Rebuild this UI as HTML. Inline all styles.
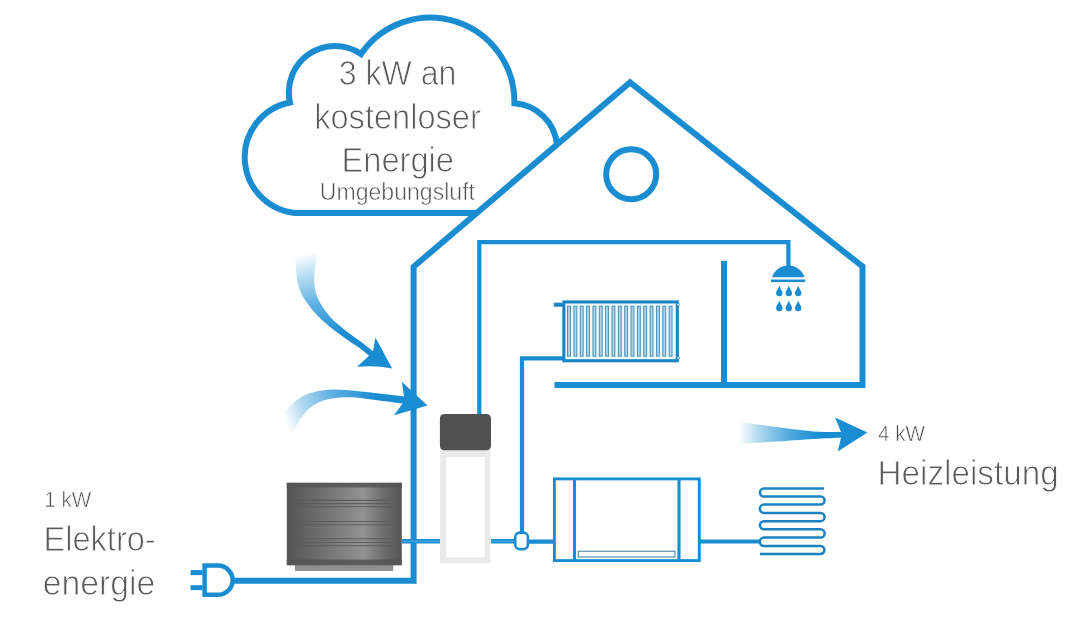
<!DOCTYPE html>
<html><head><meta charset="utf-8"><title>Wärmepumpe</title>
<style>
html,body{margin:0;padding:0;background:#fff;}
body{width:1090px;height:637px;overflow:hidden;font-family:"Liberation Sans",sans-serif;}
svg{display:block;filter:blur(0.35px);}
text{font-family:"Liberation Sans",sans-serif;fill:#595959;stroke:#fff;stroke-width:0.9px;paint-order:fill stroke;}
.sm{stroke-width:0.55px;fill:#505050}
</style></head><body>
<svg width="1090" height="637" viewBox="0 0 1090 637">
<defs>
<linearGradient id="g1" gradientUnits="userSpaceOnUse" x1="300" y1="250" x2="318" y2="340">
<stop offset="0" stop-color="#ffffff"/><stop offset="0.05" stop-color="#ffffff"/><stop offset="0.3" stop-color="#b4daf1"/><stop offset="0.62" stop-color="#5eb0e1"/><stop offset="1" stop-color="#1a8dd2"/></linearGradient>
<linearGradient id="g2" gradientUnits="userSpaceOnUse" x1="280" y1="428" x2="374" y2="392">
<stop offset="0" stop-color="#ffffff"/><stop offset="0.07" stop-color="#ffffff"/><stop offset="0.28" stop-color="#b4daf1"/><stop offset="0.6" stop-color="#5eb0e1"/><stop offset="1" stop-color="#1a8dd2"/></linearGradient>
<linearGradient id="g3" gradientUnits="userSpaceOnUse" x1="736" y1="0" x2="818" y2="0">
<stop offset="0" stop-color="#ffffff"/><stop offset="0.03" stop-color="#ffffff"/><stop offset="0.3" stop-color="#a9d5ef"/><stop offset="0.65" stop-color="#4fa9de"/><stop offset="1" stop-color="#1a8dd2"/></linearGradient>
<linearGradient id="gu" x1="0" y1="0" x2="1" y2="0">
<stop offset="0" stop-color="#555555"/><stop offset="0.12" stop-color="#5e5e5e"/><stop offset="0.45" stop-color="#7d7d7d"/><stop offset="0.66" stop-color="#929292"/><stop offset="0.86" stop-color="#6a6a6a"/><stop offset="1" stop-color="#555555"/></linearGradient>
</defs>
<rect width="1090" height="637" fill="#ffffff"/>

<!-- arrows -->
<path d="M 295.0 251.0 C 295.3 255.3 295.9 270.2 296.7 276.7 C 297.5 283.2 298.6 286.1 300.0 290.0 C 301.4 293.9 302.6 296.2 305.1 300.1 C 307.6 304.0 311.0 308.7 315.2 313.2 C 319.4 317.7 325.3 323.1 330.4 327.3 C 335.4 331.5 340.5 334.8 345.5 338.4 C 350.5 342.0 356.7 345.9 360.6 348.8 C 364.5 351.7 367.6 354.6 369.0 355.8 L 357 366.8 Q 376 365.2 392.2 368.4 L 375.4 337.6 L 373 351.2 C 370.9 349.6 365.2 345.0 360.6 341.5 C 356.0 338.0 350.5 334.4 345.5 330.4 C 340.5 326.3 334.6 321.8 330.4 317.2 C 326.2 312.6 322.8 307.6 320.3 303.1 C 317.8 298.6 316.2 295.0 315.2 290.0 C 314.2 285.0 314.0 279.5 314.5 273.0 C 315.0 266.5 317.4 254.7 318.0 251.0 Z" fill="url(#g1)"/>
<path d="M 281.0 416.8 C 283.1 414.5 288.7 406.7 293.4 402.8 C 298.1 398.9 302.5 395.6 309.0 393.4 C 315.5 391.2 323.3 389.8 332.4 389.5 C 341.5 389.2 351.7 390.6 363.6 391.8 C 375.5 393.0 397.3 395.7 404.0 396.5 L 401.8 381.7 L 427.5 405.6 L 394 415.2 L 402.6 403.5 C 398.7 403.0 388.1 401.4 379.0 400.4 C 369.9 399.4 357.6 397.2 348.0 397.3 C 338.4 397.4 328.8 398.5 321.5 401.2 C 314.2 403.9 309.2 408.2 304.3 413.7 C 299.4 419.2 293.9 430.6 291.8 434.0 Z" fill="url(#g2)"/>
<path d="M 738.7 421.8 C 744.9 422.7 763.5 425.4 776.0 427.0 C 788.5 428.6 802.8 430.6 813.6 431.4 C 824.4 432.2 836.4 431.9 841.0 432.0 L 835.1 417.5 L 867.4 432.4 L 837.8 451.5 L 841 437.4 C 836.4 437.7 824.4 438.3 813.6 439.0 C 802.8 439.7 788.5 440.8 776.0 441.6 C 763.5 442.4 744.9 443.4 738.7 443.7 Z" fill="url(#g3)"/>

<!-- cloud -->
<path d="M 477 213.1 H 300.8 A 55.8 55.8 0 0 1 290 102.5 A 46.2 46.2 0 0 1 361 54 A 84.1 84.1 0 0 1 514.4 103.2 A 46 46 0 0 1 557 144.5" fill="none" stroke="#1a8dd2" stroke-width="6" stroke-linejoin="miter"/>

<!-- house -->
<path d="M 233 580.7 H 413.6 V 266.8 L 630 82.4 L 862.5 266.5 V 385 H 554.5" fill="none" stroke="#1a8dd2" stroke-width="6" stroke-linejoin="miter" stroke-miterlimit="10"/>
<path d="M 724 260.8 V 385" fill="none" stroke="#1a8dd2" stroke-width="6"/>
<circle cx="631.2" cy="174.2" r="25" fill="none" stroke="#1a8dd2" stroke-width="6"/>

<!-- pipes -->
<path d="M 479.3 416 V 242.2 H 788.4 V 267" fill="none" stroke="#1a8dd2" stroke-width="4.2" stroke-linejoin="miter"/>
<path d="M 564 358.4 H 522 V 533" fill="none" stroke="#1a8dd2" stroke-width="4.2" stroke-linejoin="miter"/>

<!-- shower -->
<path d="M 772 277.2 A 17.2 17.2 0 0 1 804.6 277.2 Z" fill="#1a8dd2"/>
<rect x="771" y="279.5" width="34.2" height="2.6" fill="#1a8dd2"/>
<path d="M 779.30 285.50 C 779.90 288.30 782.50 290.80 782.50 293.00 A 3.20 3.20 0 0 1 776.10 293.00 C 776.10 290.80 778.70 288.30 779.30 285.50 Z" fill="#1a8dd2"/><path d="M 779.30 300.50 C 779.90 303.30 782.50 305.80 782.50 308.00 A 3.20 3.20 0 0 1 776.10 308.00 C 776.10 305.80 778.70 303.30 779.30 300.50 Z" fill="#1a8dd2"/><path d="M 788.80 285.50 C 789.40 288.30 792.00 290.80 792.00 293.00 A 3.20 3.20 0 0 1 785.60 293.00 C 785.60 290.80 788.20 288.30 788.80 285.50 Z" fill="#1a8dd2"/><path d="M 788.80 300.50 C 789.40 303.30 792.00 305.80 792.00 308.00 A 3.20 3.20 0 0 1 785.60 308.00 C 785.60 305.80 788.20 303.30 788.80 300.50 Z" fill="#1a8dd2"/><path d="M 798.20 285.50 C 798.80 288.30 801.40 290.80 801.40 293.00 A 3.20 3.20 0 0 1 795.00 293.00 C 795.00 290.80 797.60 288.30 798.20 285.50 Z" fill="#1a8dd2"/><path d="M 798.20 300.50 C 798.80 303.30 801.40 305.80 801.40 308.00 A 3.20 3.20 0 0 1 795.00 308.00 C 795.00 305.80 797.60 303.30 798.20 300.50 Z" fill="#1a8dd2"/>

<!-- radiator -->
<rect x="553.7" y="302.7" width="10" height="4" fill="#1a84c4"/>
<rect x="563.85" y="301.95" width="113.5" height="58.8" fill="#ecfaff" stroke="#1a84c4" stroke-width="3.1"/>
<rect x="567.55" y="306.2" width="2.9" height="50" fill="#a9d3e6" stroke="#4a8db2" stroke-width="0.95"/><rect x="573.90" y="306.2" width="2.9" height="50" fill="#a9d3e6" stroke="#4a8db2" stroke-width="0.95"/><rect x="580.25" y="306.2" width="2.9" height="50" fill="#a9d3e6" stroke="#4a8db2" stroke-width="0.95"/><rect x="586.60" y="306.2" width="2.9" height="50" fill="#a9d3e6" stroke="#4a8db2" stroke-width="0.95"/><rect x="592.95" y="306.2" width="2.9" height="50" fill="#a9d3e6" stroke="#4a8db2" stroke-width="0.95"/><rect x="599.30" y="306.2" width="2.9" height="50" fill="#a9d3e6" stroke="#4a8db2" stroke-width="0.95"/><rect x="605.65" y="306.2" width="2.9" height="50" fill="#a9d3e6" stroke="#4a8db2" stroke-width="0.95"/><rect x="612.00" y="306.2" width="2.9" height="50" fill="#a9d3e6" stroke="#4a8db2" stroke-width="0.95"/><rect x="618.35" y="306.2" width="2.9" height="50" fill="#a9d3e6" stroke="#4a8db2" stroke-width="0.95"/><rect x="624.70" y="306.2" width="2.9" height="50" fill="#a9d3e6" stroke="#4a8db2" stroke-width="0.95"/><rect x="631.05" y="306.2" width="2.9" height="50" fill="#a9d3e6" stroke="#4a8db2" stroke-width="0.95"/><rect x="637.40" y="306.2" width="2.9" height="50" fill="#a9d3e6" stroke="#4a8db2" stroke-width="0.95"/><rect x="643.75" y="306.2" width="2.9" height="50" fill="#a9d3e6" stroke="#4a8db2" stroke-width="0.95"/><rect x="650.10" y="306.2" width="2.9" height="50" fill="#a9d3e6" stroke="#4a8db2" stroke-width="0.95"/><rect x="656.45" y="306.2" width="2.9" height="50" fill="#a9d3e6" stroke="#4a8db2" stroke-width="0.95"/><rect x="662.80" y="306.2" width="2.9" height="50" fill="#a9d3e6" stroke="#4a8db2" stroke-width="0.95"/><rect x="669.15" y="306.2" width="2.9" height="50" fill="#a9d3e6" stroke="#4a8db2" stroke-width="0.95"/>
<circle cx="678.3" cy="304.5" r="1.3" fill="#fff" stroke="#1a8dd2" stroke-width="0.8"/>
<circle cx="678.3" cy="358" r="1.3" fill="#fff" stroke="#1a8dd2" stroke-width="0.8"/>

<!-- heat pump outdoor unit -->
<rect x="295" y="563" width="98.2" height="8" fill="#8f8f8f"/>
<rect x="286.8" y="482.8" width="115" height="82.4" fill="url(#gu)"/>
<rect x="286.8" y="482.8" width="115" height="4.6" fill="#555" opacity="0.85"/>
<rect x="286.8" y="559.6" width="115" height="5.6" fill="#555" opacity="0.85"/>
<g stroke="#5a5a5a" stroke-width="1.1" opacity="0.9">
<path d="M 297 500.4 H 394 M 299 503.6 H 392 M 297 506.8 H 394"/>
<path d="M 299 521.5 H 392 M 297 524.7 H 394"/>
<path d="M 297 538.8 H 394 M 299 542.5 H 392 M 297 545.8 H 394"/>
</g>

<!-- connection pipes bottom -->
<path d="M 401.8 541.2 H 440 M 491 541.2 H 515" stroke="#1a8dd2" stroke-width="4.6" fill="none"/>
<path d="M 401.8 541.2 H 440 M 491 541.2 H 515" stroke="#55aee4" stroke-width="1" fill="none"/>
<path d="M 528 541.6 H 554 M 700 541.5 H 760" stroke="#1a8dd2" stroke-width="4.2" fill="none"/>

<!-- tank -->
<rect x="440.2" y="446" width="50.1" height="117.3" fill="#e9e9e9"/><rect x="446.2" y="457" width="38.5" height="100.4" fill="#ffffff"/>
<rect x="439.9" y="414" width="51.1" height="36.3" rx="4.5" fill="#505050"/>

<!-- valve -->
<rect x="515.2" y="532.6" width="12.7" height="16.6" rx="4.6" fill="#ffffff" stroke="#1a8dd2" stroke-width="2.6"/>

<!-- buffer box -->
<rect x="554.4" y="478.9" width="144.9" height="81.7" fill="#ffffff" stroke="#1a8dd2" stroke-width="2.9"/>
<path d="M 574.5 479 V 560.5 M 679 479 V 560.5" stroke="#1a8dd2" stroke-width="3.1" fill="none"/>
<rect x="578.3" y="551.2" width="96.7" height="5.8" fill="#ffffff" stroke="#4f86a8" stroke-width="1.1"/>

<!-- coil -->
<path d="M 824 488.4 H 764.0 A 4.05 4.05 0 0 0 764.0 496.5 H 820.5 A 4.05 4.05 0 0 1 820.5 504.6 H 764.0 A 4.15 4.15 0 0 0 764.0 512.9 H 820.5 A 4.15 4.15 0 0 1 820.5 521.2 H 764.0 A 4.05 4.05 0 0 0 764.0 529.3 H 820.5 A 4.15 4.15 0 0 1 820.5 537.6 H 764.0 A 4.20 4.20 0 0 0 764.0 546.0 H 820.5 A 3.95 3.95 0 0 1 820.5 553.9 H 760.0" fill="none" stroke="#1c82bf" stroke-width="2.5" stroke-linecap="butt"/>

<!-- plug -->
<path d="M 204.6 565.6 H 218 A 14.6 14.6 0 0 1 218 594.8 H 204.6 Z" fill="none" stroke="#1a8dd2" stroke-width="4.5" stroke-linejoin="miter"/>
<rect x="190.6" y="570.1" width="12" height="5" fill="#1a8dd2"/>
<rect x="190.6" y="585.2" width="12" height="4.9" fill="#1a8dd2"/>

<!-- text -->
<g id="txt" opacity="0.999">
<text x="338.7" y="85.2" font-size="35.2" textLength="117.8" lengthAdjust="spacingAndGlyphs">3 kW an</text>
<text x="314.2" y="129.0" font-size="35.2" textLength="166.6" lengthAdjust="spacingAndGlyphs">kostenloser</text>
<text x="341.6" y="172.2" font-size="35.2" textLength="112.4" lengthAdjust="spacingAndGlyphs">Energie</text>
<text x="319.8" y="200.3" class="sm" font-size="23.1" textLength="155.2" lengthAdjust="spacingAndGlyphs">Umgebungsluft</text>
<text x="44.2" y="506.7" class="sm" font-size="22.1" textLength="47" lengthAdjust="spacingAndGlyphs">1 kW</text>
<text x="43.5" y="550.8" font-size="35.5" textLength="112.2" lengthAdjust="spacingAndGlyphs">Elektro-</text>
<text x="42.8" y="594.6" font-size="35.5" textLength="112.5" lengthAdjust="spacingAndGlyphs">energie</text>
<text x="878.1" y="440.6" class="sm" font-size="22.1" textLength="46.8" lengthAdjust="spacingAndGlyphs">4 kW</text>
<text x="877.5" y="485.2" font-size="35.5" textLength="181.2" lengthAdjust="spacingAndGlyphs">Heizleistung</text>
</g>
</svg>
</body></html>
